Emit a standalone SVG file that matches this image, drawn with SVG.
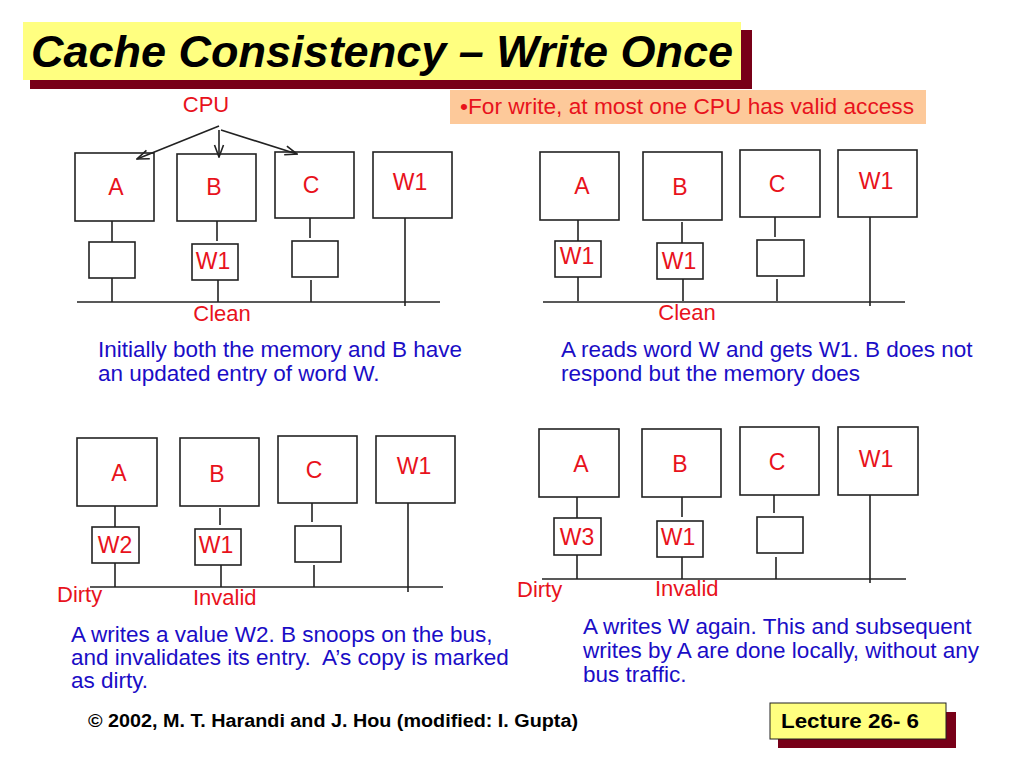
<svg xmlns="http://www.w3.org/2000/svg" width="1024" height="768" viewBox="0 0 1024 768">
<style>
.bx{fill:#fff;stroke:#222;stroke-width:1.6}
.ln{stroke:#222;stroke-width:1.6;fill:none}
.r{font-family:"Liberation Sans",Arial,sans-serif;font-size:22px;fill:#e8121c}
.rb{font-family:"Liberation Sans",Arial,sans-serif;font-size:23px;fill:#e8121c;text-anchor:middle}
.bl{font-family:"Liberation Sans",Arial,sans-serif;font-size:22.5px;fill:#1a0dc6}
.m{text-anchor:middle}
</style>
<defs>
<marker id="ah" markerWidth="14" markerHeight="12" refX="13" refY="6" orient="auto" markerUnits="userSpaceOnUse">
<path d="M1,1.5 L13,6 L1,10.5" fill="none" stroke="#222" stroke-width="1.6"/>
</marker>
</defs>
<rect width="1024" height="768" fill="#fff"/>

<g id="title">
<rect x="30" y="30" width="722" height="59" fill="#780018"/>
<rect x="23" y="22" width="718" height="58" fill="#ffff80"/>
<text x="31" y="67" font-family="'Liberation Sans',Arial,sans-serif" font-size="45" font-weight="bold" font-style="italic" textLength="702" lengthAdjust="spacingAndGlyphs">Cache Consistency – Write Once</text>
</g>

<g id="note">
<rect x="450" y="90" width="476" height="34" fill="#fdc99a"/>
<text class="r" x="460" y="114" textLength="454" lengthAdjust="spacingAndGlyphs">•For write, at most one CPU has valid access</text>
</g>

<g id="cpu-label"><text class="r m" x="206" y="112">CPU</text></g>

<!-- Panel 1 -->
<g id="p1-A"><rect class="bx" x="75" y="153" width="79" height="68"/><text class="rb" x="116" y="195">A</text></g>
<g id="p1-B"><rect class="bx" x="177" y="154" width="79" height="67"/><text class="rb" x="214" y="195">B</text></g>
<g id="p1-C"><rect class="bx" x="275" y="152" width="79" height="66"/><text class="rb" x="311" y="193">C</text></g>
<g id="p1-M"><rect class="bx" x="373" y="152" width="79" height="66"/><text class="rb" x="410" y="190">W1</text></g>
<g id="p1-cA"><rect class="bx" x="89" y="242" width="46" height="36"/></g>
<g id="p1-cB"><rect class="bx" x="192" y="244" width="46" height="36"/><text class="rb" x="213" y="269">W1</text></g>
<g id="p1-cC"><rect class="bx" x="292" y="241" width="46" height="36"/></g>
<text class="r m" x="222" y="321">Clean</text>
<text class="bl" x="98" y="357">Initially both the memory and B have</text>
<text class="bl" x="98" y="381">an updated entry of word W.</text>

<!-- Panel 2 -->
<g id="p2-A"><rect class="bx" x="540" y="152" width="79" height="68"/><text class="rb" x="582" y="194">A</text></g>
<g id="p2-B"><rect class="bx" x="643" y="152" width="79" height="68"/><text class="rb" x="680" y="195">B</text></g>
<g id="p2-C"><rect class="bx" x="740" y="150" width="80" height="67"/><text class="rb" x="777" y="192">C</text></g>
<g id="p2-M"><rect class="bx" x="838" y="150" width="79" height="67"/><text class="rb" x="876" y="189">W1</text></g>
<g id="p2-cA"><rect class="bx" x="555" y="241" width="46" height="36"/><text class="rb" x="577" y="264">W1</text></g>
<g id="p2-cB"><rect class="bx" x="657" y="243" width="46" height="36"/><text class="rb" x="679" y="269">W1</text></g>
<g id="p2-cC"><rect class="bx" x="757" y="240" width="47" height="36"/></g>
<text class="r m" x="687" y="320">Clean</text>
<text class="bl" x="561" y="357">A reads word W and gets W1. B does not</text>
<text class="bl" x="561" y="381">respond but the memory does</text>

<!-- Panel 3 -->
<g id="p3-A"><rect class="bx" x="77" y="438" width="80" height="68"/><text class="rb" x="119" y="481">A</text></g>
<g id="p3-B"><rect class="bx" x="180" y="438" width="79" height="68"/><text class="rb" x="217" y="482">B</text></g>
<g id="p3-C"><rect class="bx" x="278" y="436" width="79" height="67"/><text class="rb" x="314" y="478">C</text></g>
<g id="p3-M"><rect class="bx" x="376" y="436" width="79" height="67"/><text class="rb" x="414" y="474">W1</text></g>
<g id="p3-cA"><rect class="bx" x="92" y="527" width="47" height="36"/><text class="rb" x="115" y="553">W2</text></g>
<g id="p3-cB"><rect class="bx" x="195" y="529" width="46" height="36"/><text class="rb" x="216" y="553">W1</text></g>
<g id="p3-cC"><rect class="bx" x="295" y="526" width="46" height="36"/></g>
<text class="r" x="57" y="602">Dirty</text>
<text class="r" x="193" y="605">Invalid</text>
<text class="bl" x="71" y="642">A writes a value W2. B snoops on the bus,</text>
<text class="bl" x="71" y="665" xml:space="preserve">and invalidates its entry.  A’s copy is marked</text>
<text class="bl" x="71" y="688">as dirty.</text>

<!-- Panel 4 -->
<g id="p4-A"><rect class="bx" x="539" y="429" width="80" height="68"/><text class="rb" x="581" y="472">A</text></g>
<g id="p4-B"><rect class="bx" x="642" y="429" width="79" height="68"/><text class="rb" x="680" y="472">B</text></g>
<g id="p4-C"><rect class="bx" x="740" y="427" width="79" height="68"/><text class="rb" x="777" y="470">C</text></g>
<g id="p4-M"><rect class="bx" x="838" y="427" width="80" height="68"/><text class="rb" x="876" y="467">W1</text></g>
<g id="p4-cA"><rect class="bx" x="554" y="518" width="47" height="37"/><text class="rb" x="577" y="545">W3</text></g>
<g id="p4-cB"><rect class="bx" x="657" y="521" width="46" height="36"/><text class="rb" x="678" y="545">W1</text></g>
<g id="p4-cC"><rect class="bx" x="757" y="517" width="46" height="36"/></g>
<text class="r" x="517" y="597">Dirty</text>
<text class="r" x="655" y="596">Invalid</text>
<text class="bl" x="583" y="634">A writes W again. This and subsequent</text>
<text class="bl" x="583" y="658">writes by A are done locally, without any</text>
<text class="bl" x="583" y="682">bus traffic.</text>

<g id="connectors">
<line class="ln" x1="219" y1="126" x2="137" y2="159" marker-end="url(#ah)"/>
<line class="ln" x1="219" y1="130" x2="219" y2="157" marker-end="url(#ah)"/>
<line class="ln" x1="221" y1="130" x2="297" y2="154" marker-end="url(#ah)"/>
<!-- panel 1 -->
<line class="ln" x1="112" y1="221" x2="112" y2="242"/>
<line class="ln" x1="112" y1="278" x2="112" y2="302"/>
<line class="ln" x1="217" y1="221" x2="217" y2="241"/>
<line class="ln" x1="218" y1="280" x2="218" y2="302"/>
<line class="ln" x1="310" y1="218" x2="310" y2="238"/>
<line class="ln" x1="311" y1="280" x2="311" y2="302"/>
<line class="ln" x1="405" y1="218" x2="405" y2="306"/>
<line class="ln" x1="77" y1="302" x2="440" y2="302"/>
<!-- panel 2 -->
<line class="ln" x1="578" y1="220" x2="578" y2="241"/>
<line class="ln" x1="578" y1="277" x2="578" y2="301"/>
<line class="ln" x1="682" y1="222" x2="682" y2="243"/>
<line class="ln" x1="683" y1="279" x2="683" y2="301"/>
<line class="ln" x1="775" y1="217" x2="775" y2="237"/>
<line class="ln" x1="777" y1="279" x2="777" y2="301"/>
<line class="ln" x1="870" y1="217" x2="870" y2="306"/>
<line class="ln" x1="543" y1="302" x2="905" y2="302"/>
<!-- panel 3 -->
<line class="ln" x1="115" y1="506" x2="115" y2="527"/>
<line class="ln" x1="115" y1="563" x2="115" y2="587"/>
<line class="ln" x1="220" y1="508" x2="220" y2="525"/>
<line class="ln" x1="221" y1="565" x2="221" y2="587"/>
<line class="ln" x1="312" y1="503" x2="312" y2="522"/>
<line class="ln" x1="314" y1="565" x2="314" y2="587"/>
<line class="ln" x1="408" y1="503" x2="408" y2="592"/>
<line class="ln" x1="90" y1="587" x2="443" y2="587"/>
<!-- panel 4 -->
<line class="ln" x1="577" y1="497" x2="577" y2="518"/>
<line class="ln" x1="577" y1="555" x2="577" y2="579"/>
<line class="ln" x1="682" y1="497" x2="682" y2="517"/>
<line class="ln" x1="682" y1="557" x2="682" y2="579"/>
<line class="ln" x1="774" y1="495" x2="774" y2="513"/>
<line class="ln" x1="776" y1="557" x2="776" y2="579"/>
<line class="ln" x1="870" y1="495" x2="870" y2="583"/>
<line class="ln" x1="542" y1="579" x2="906" y2="579"/>
</g>

<g id="footer">
<text x="88" y="727" font-family="'Liberation Sans',Arial,sans-serif" font-size="18" font-weight="bold" textLength="490" lengthAdjust="spacingAndGlyphs">© 2002, M. T. Harandi and J. Hou (modified: I. Gupta)</text>
</g>
<g id="lecture">
<rect x="778" y="712" width="178" height="36" fill="#780018"/>
<rect x="770" y="703" width="176" height="36" fill="#ffff80" stroke="#222" stroke-width="1"/>
<text x="781" y="728" font-family="'Liberation Sans',Arial,sans-serif" font-size="20" font-weight="bold" textLength="138" lengthAdjust="spacingAndGlyphs">Lecture 26- 6</text>
</g>
</svg>
